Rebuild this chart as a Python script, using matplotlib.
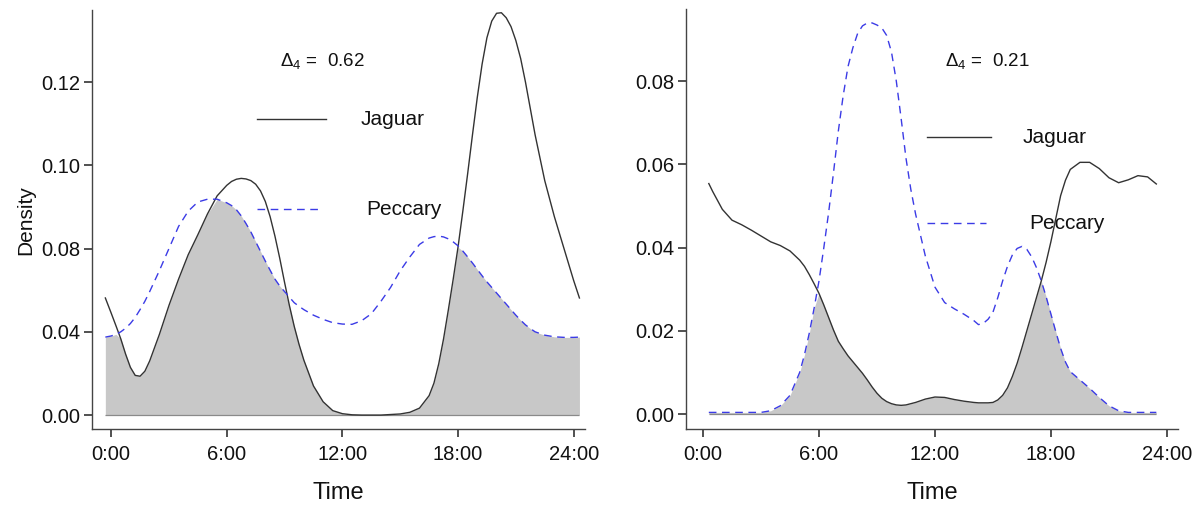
import numpy as np
import matplotlib
matplotlib.use("Agg")
import matplotlib.pyplot as plt

plt.rcParams['font.family'] = ['Liberation Sans', 'DejaVu Sans']
plt.rcParams['mathtext.fontset'] = 'custom'
plt.rcParams['mathtext.rm'] = 'Liberation Sans'
plt.rcParams['mathtext.it'] = 'Liberation Sans:italic'

# --- left panel: kernel densities by hour of day ---
hours_a = [-0.3, 0.0, 0.25, 0.5, 0.75, 1.0, 1.25, 1.5, 1.75, 2.0, 2.5, 3.0, 3.5,
           4.0, 4.5, 5.0, 5.5, 6.0, 6.25, 6.5, 6.75, 7.0, 7.25, 7.5, 7.75, 8.0,
           8.25, 8.5, 8.75, 9.0, 9.25, 9.5, 9.75, 10.0, 10.5, 11.0, 11.5, 12.0,
           12.5, 13.0, 13.5, 14.0, 14.5, 15.0, 15.5, 16.0, 16.5, 16.75, 17.0,
           17.25, 17.5, 17.75, 18.0, 18.25, 18.5, 18.75, 19.0, 19.25, 19.5, 19.75,
           20.0, 20.25, 20.5, 20.75, 21.0, 21.25, 21.5, 21.75, 22.0, 22.5, 23.0,
           23.5, 24.0, 24.3]
jaguar_a = [0.0422, 0.0368, 0.0322, 0.0275, 0.0220, 0.0172, 0.0143, 0.0140, 0.0158,
            0.0195, 0.0290, 0.0395, 0.0490, 0.0578, 0.0650, 0.0725, 0.0790, 0.0828,
            0.0842, 0.0850, 0.0853, 0.0851, 0.0845, 0.0832, 0.0808, 0.0770, 0.0715,
            0.0645, 0.0565, 0.0478, 0.0395, 0.0320, 0.0255, 0.0198, 0.0105, 0.0048,
            0.0016, 0.0005, 0.0001, 0.0, 0.0, 0.0, 0.0002, 0.0004, 0.0010, 0.0025,
            0.0070, 0.0115, 0.0185, 0.0275, 0.0380, 0.0490, 0.0605, 0.0735, 0.0870,
            0.1010, 0.1145, 0.1265, 0.1360, 0.1420, 0.1448, 0.1450, 0.1432, 0.1400,
            0.1350, 0.1285, 0.1200, 0.1105, 0.1010, 0.0845, 0.0715, 0.0600, 0.0485,
            0.0422]
peccary_a = [0.0281, 0.0285, 0.0291, 0.0300, 0.0313, 0.0330, 0.0352, 0.0380, 0.0410,
             0.0445, 0.0520, 0.0600, 0.0680, 0.0735, 0.0768, 0.0778, 0.0778, 0.0765,
             0.0755, 0.0740, 0.0718, 0.0690, 0.0660, 0.0625, 0.0590, 0.0555, 0.0522,
             0.0490, 0.0465, 0.0445, 0.0425, 0.0405, 0.0392, 0.0380, 0.0360, 0.0345,
             0.0333, 0.0328, 0.0327, 0.0340, 0.0365, 0.0410, 0.0460, 0.0520, 0.0570,
             0.0615, 0.0638, 0.0643, 0.0645, 0.0642, 0.0635, 0.0624, 0.0610, 0.0591,
             0.0570, 0.0548, 0.0525, 0.0502, 0.0480, 0.0460, 0.0440, 0.0420, 0.0400,
             0.0380, 0.0360, 0.0342, 0.0325, 0.0312, 0.0300, 0.0288, 0.0282, 0.0280,
             0.0280, 0.0281]

# --- right panel ---
hours_b = [0.3, 0.5, 1.0, 1.5, 2.0, 2.5, 3.0, 3.5, 4.0, 4.5, 5.0, 5.25, 5.5, 5.75,
           6.0, 6.25, 6.5, 6.75, 7.0, 7.25, 7.5, 7.75, 8.0, 8.25, 8.5, 8.75, 9.0,
           9.25, 9.5, 9.75, 10.0, 10.25, 10.5, 10.75, 11.0, 11.5, 12.0, 12.5, 13.0,
           13.5, 14.0, 14.25, 14.5, 14.75, 15.0, 15.25, 15.5, 15.75, 16.0, 16.25,
           16.5, 16.75, 17.0, 17.25, 17.5, 17.75, 18.0, 18.25, 18.5, 18.75, 19.0,
           19.5, 20.0, 20.5, 21.0, 21.5, 22.0, 22.5, 23.0, 23.45]
jaguar_b = [0.0554, 0.0535, 0.0492, 0.0466, 0.0455, 0.0442, 0.0428, 0.0414, 0.0405,
            0.0392, 0.0370, 0.0355, 0.0335, 0.0313, 0.0290, 0.0262, 0.0232, 0.0202,
            0.0175, 0.0157, 0.0140, 0.0126, 0.0112, 0.0098, 0.0082, 0.0065, 0.0050,
            0.0038, 0.0030, 0.0025, 0.0022, 0.0021, 0.0022, 0.0025, 0.0028, 0.0036,
            0.0041, 0.0040, 0.0035, 0.0031, 0.0028, 0.0027, 0.0027, 0.0027, 0.0028,
            0.0034, 0.0045, 0.0063, 0.0090, 0.0122, 0.0160, 0.0200, 0.0240, 0.0280,
            0.0320, 0.0365, 0.0415, 0.0470, 0.0525, 0.0562, 0.0588, 0.0605, 0.0605,
            0.0590, 0.0568, 0.0556, 0.0563, 0.0573, 0.0570, 0.0553]
peccary_b = [0.0004, 0.0004, 0.0004, 0.0004, 0.0004, 0.0004, 0.0004, 0.0008, 0.0020,
             0.0045, 0.0100, 0.0143, 0.0195, 0.0255, 0.0320, 0.0400, 0.0485, 0.0580,
             0.0680, 0.0765, 0.0835, 0.0880, 0.0915, 0.0933, 0.0940, 0.0940, 0.0935,
             0.0928, 0.0910, 0.0870, 0.0800, 0.0710, 0.0615, 0.0540, 0.0480, 0.0380,
             0.0305, 0.0268, 0.0253, 0.0240, 0.0225, 0.0215, 0.0218, 0.0228, 0.0245,
             0.0280, 0.0320, 0.0355, 0.0382, 0.0398, 0.0403, 0.0396, 0.0378, 0.0352,
             0.0320, 0.0282, 0.0240, 0.0198, 0.0158, 0.0125, 0.0102, 0.0082, 0.0062,
             0.0040, 0.0020, 0.0008, 0.0004, 0.0004, 0.0004, 0.0004]

time_ticks = [0, 6, 12, 18, 24]
time_labels = ["0:00", "6:00", "12:00", "18:00", "24:00"]
yticks_a = [0.0, 0.03, 0.06, 0.09, 0.12]
ylabels_a = ["0.00", "0.04", "0.08", "0.10", "0.12"]
yticks_b = [0.0, 0.02, 0.04, 0.06, 0.08]
ylabels_b = ["0.00", "0.02", "0.04", "0.06", "0.08"]
delta_a = 0.62
delta_b = 0.21

JAG_COL = '#333333'
PEC_COL = '#3b3be6'
FILL_COL = '#c8c8c8'
TXT_COL = '#111111'


def draw_panel(ax, hours, jag, pec, yticks, ylabels, ylim, xlim, delta, legend_pos):
    hours = np.asarray(hours)
    jag = np.asarray(jag)
    pec = np.asarray(pec)
    # shaded overlap = area under the lower of the two curves
    ax.fill_between(hours, 0, np.minimum(jag, pec), color=FILL_COL, lw=0)
    ax.hlines(0, hours[0], hours[-1], color='#8a8a8a', lw=0.9)
    ax.plot(hours, jag, color=JAG_COL, lw=1.0, solid_joinstyle='round')
    ax.plot(hours, pec, color=PEC_COL, lw=1.0, dashes=(5.5, 4))

    ax.set_xlim(*xlim)
    ax.set_ylim(*ylim)
    ax.set_xticks(time_ticks)
    ax.set_xticklabels(time_labels)
    ax.set_yticks(yticks)
    ax.set_yticklabels(ylabels)
    ax.set_xlabel("Time", fontsize=17, labelpad=13, color=TXT_COL)

    for side in ('top', 'right'):
        ax.spines[side].set_visible(False)
    for side in ('left', 'bottom'):
        ax.spines[side].set_color('#444444')
        ax.spines[side].set_linewidth(1.0)
    ax.tick_params(axis='both', length=5.5, width=1.1, color='#222222',
                   labelsize=14.5, labelcolor=TXT_COL)
    ax.tick_params(axis='x', pad=6)
    ax.tick_params(axis='y', pad=3)

    # hand-placed key, like the base-R overlap plot
    (dx, dy), (lx0, lx1), jy, py, (tjx, tpx) = legend_pos
    ax.text(dx, dy, r'$\Delta_4$ =  %.2f' % delta, transform=ax.transAxes,
            fontsize=13.5, va='center', ha='left', color=TXT_COL)
    ax.plot([lx0, lx1], [jy, jy], transform=ax.transAxes, color=JAG_COL, lw=1.0)
    ax.plot([lx0, lx1 - 0.01], [py, py], transform=ax.transAxes, color=PEC_COL,
            lw=1.0, dashes=(5.5, 4))
    ax.text(tjx, jy, "Jaguar", transform=ax.transAxes, fontsize=15,
            va='center', ha='left', color=TXT_COL)
    ax.text(tpx, py, "Peccary", transform=ax.transAxes, fontsize=15,
            va='center', ha='left', color=TXT_COL)


fig = plt.figure(figsize=(11.97, 5.12), dpi=100)
ax1 = fig.add_axes([0.0769, 0.162, 0.412, 0.818])
ax2 = fig.add_axes([0.5731, 0.162, 0.411, 0.820])

draw_panel(ax1, hours_a, jaguar_a, peccary_a, yticks_a, ylabels_a,
           (-0.00504, 0.1459), (-0.99, 24.6), delta_a,
           ((0.381, 0.878), (0.335, 0.475), 0.740, 0.525, (0.544, 0.556)))
draw_panel(ax2, hours_b, jaguar_b, peccary_b, yticks_b, ylabels_b,
           (-0.0036, 0.0973), (-0.88, 24.57), delta_b,
           ((0.526, 0.876), (0.490, 0.620), 0.695, 0.490, (0.685, 0.697)))
ax1.set_ylabel("Density", fontsize=15, labelpad=4, color=TXT_COL)

fig.savefig("out.png", dpi=100)
